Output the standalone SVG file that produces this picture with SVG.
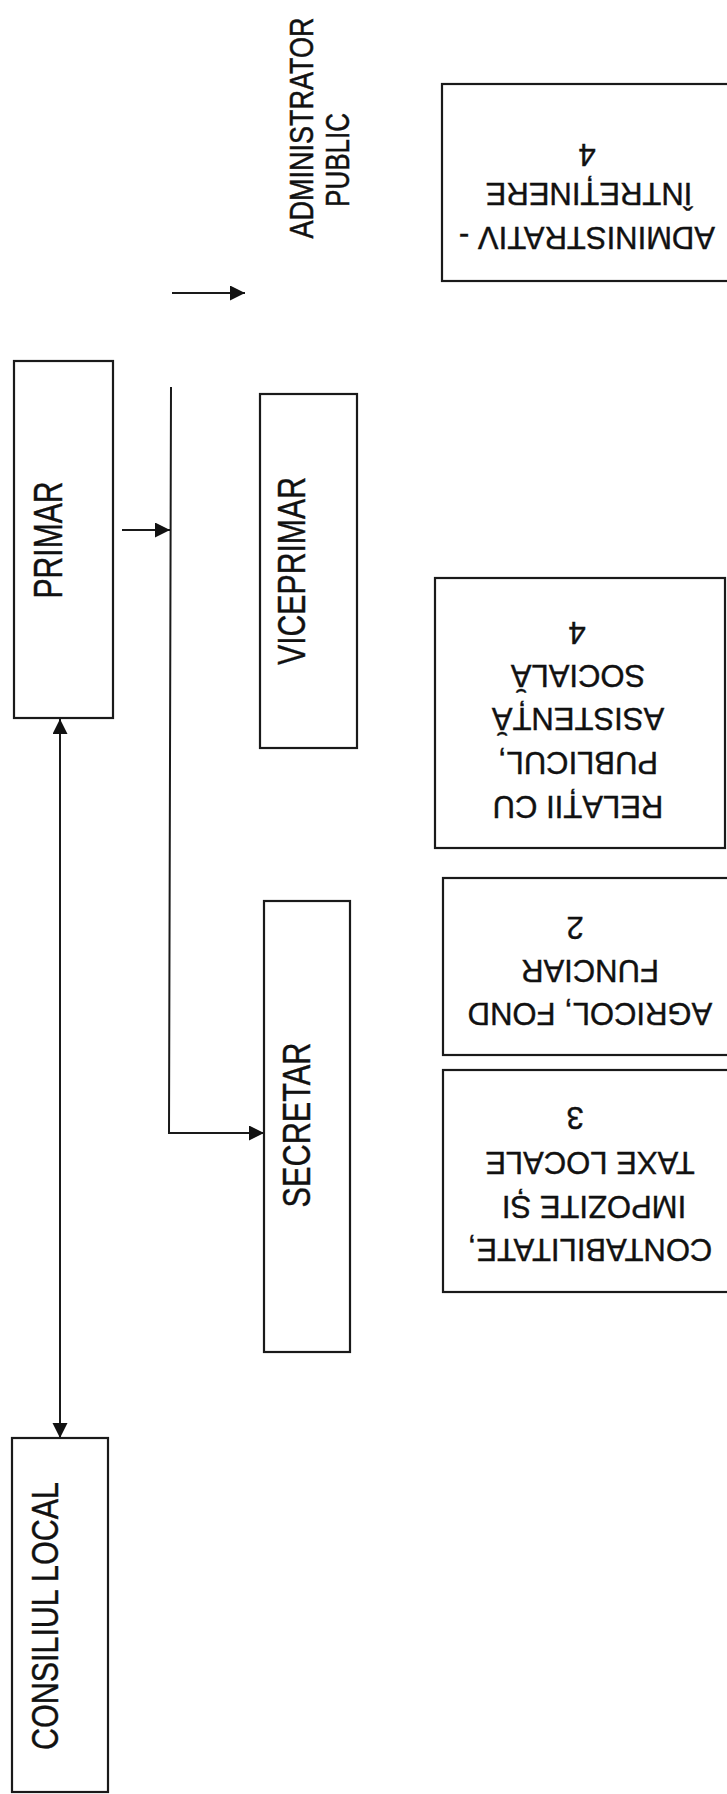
<svg xmlns="http://www.w3.org/2000/svg" width="727" height="1794" viewBox="0 0 727 1794">
<style>
  .box { fill: #fff; stroke: #1a1a1a; stroke-width: 2.2; }
  .t { font-family: "Liberation Sans", Arial, sans-serif; fill: #111; stroke: #111; stroke-width: 0.4; text-anchor: middle; }
  .tl { font-size: 39px; }
  .tr { font-size: 31px; }
  .ta { font-size: 34px; }
  .conn { fill: none; stroke: #1a1a1a; stroke-width: 2; }
</style>
<defs>
  <marker id="arr" markerUnits="userSpaceOnUse" markerWidth="16" markerHeight="16" refX="15" refY="7.5" orient="auto-start-reverse">
    <path d="M0,0 L15,7.5 L0,15 z" fill="#111"/>
  </marker>
</defs>
<rect width="727" height="1794" fill="#fff"/>

<g id="connectors">
  <path class="conn" d="M172,293 L245,293" marker-end="url(#arr)"/>
  <path class="conn" d="M122,530 L170,530" marker-end="url(#arr)"/>
  <path class="conn" d="M171,387 L169,1133 L264,1133" marker-end="url(#arr)"/>
  <path class="conn" d="M60,719 L60,1438" marker-start="url(#arr)" marker-end="url(#arr)"/>
</g>

<g id="administrator-public">
  <text class="t" transform="translate(313,128) rotate(-90) scale(1,1.26)" style="font-size:27px">ADMINISTRATOR</text>
  <text class="t" transform="translate(349,160) rotate(-90) scale(1,1.3)" style="font-size:26px">PUBLIC</text>
</g>

<g id="primar">
  <rect class="box" x="14" y="361" width="99" height="357"/>
  <text class="t tl" transform="translate(62,540) rotate(-90)" style="font-size:40px" textLength="117" lengthAdjust="spacingAndGlyphs">PRIMAR</text>
</g>

<g id="viceprimar">
  <rect class="box" x="260" y="394" width="97" height="354"/>
  <text class="t tl" transform="translate(305,571) rotate(-90)" textLength="188" lengthAdjust="spacingAndGlyphs">VICEPRIMAR</text>
</g>

<g id="secretar">
  <rect class="box" x="264" y="901" width="86" height="451"/>
  <text class="t tl" transform="translate(310,1125) rotate(-90)" textLength="165" lengthAdjust="spacingAndGlyphs">SECRETAR</text>
</g>

<g id="consiliul-local">
  <rect class="box" x="12" y="1438" width="96" height="354"/>
  <text class="t tl" transform="translate(58,1616) rotate(-90)" style="font-size:37px" textLength="268" lengthAdjust="spacingAndGlyphs">CONSILIUL LOCAL</text>
</g>

<g id="administrativ">
  <rect class="box" x="442" y="84" width="300" height="197"/>
  <text class="t tr" transform="translate(587,155) rotate(180)" y="11">4</text>
  <text class="t tr" transform="translate(589,194) rotate(180)" y="11">ÎNTREȚINERE</text>
  <text class="t tr" transform="translate(587,238) rotate(180)" y="11">ADMINISTRATIV -</text>
</g>

<g id="relatii">
  <rect class="box" x="435" y="578" width="290" height="270"/>
  <text class="t tr" transform="translate(577,633) rotate(180)" y="11">4</text>
  <text class="t tr" transform="translate(578,676) rotate(180)" y="11">SOCIALĂ</text>
  <text class="t tr" transform="translate(578,719) rotate(180)" y="11">ASISTENȚĂ</text>
  <text class="t tr" transform="translate(578,763) rotate(180)" y="11">PUBLICUL,</text>
  <text class="t tr" transform="translate(578,807) rotate(180)" y="11">RELAȚII CU</text>
</g>

<g id="agricol">
  <rect class="box" x="443" y="878" width="300" height="177"/>
  <text class="t tr" transform="translate(575,928) rotate(180)" y="11">2</text>
  <text class="t tr" transform="translate(590,971) rotate(180)" y="11">FUNCIAR</text>
  <text class="t tr" transform="translate(590,1014) rotate(180)" y="11">AGRICOL, FOND</text>
</g>

<g id="contabilitate">
  <rect class="box" x="443" y="1070" width="300" height="222"/>
  <text class="t tr" transform="translate(575,1118) rotate(180)" y="11">3</text>
  <text class="t tr" transform="translate(590,1163) rotate(180)" y="11">TAXE LOCALE</text>
  <text class="t tr" transform="translate(594,1207) rotate(180)" y="11">IMPOZITE ȘI</text>
  <text class="t tr" transform="translate(590,1250) rotate(180)" y="11">CONTABILITATE,</text>
</g>
</svg>
